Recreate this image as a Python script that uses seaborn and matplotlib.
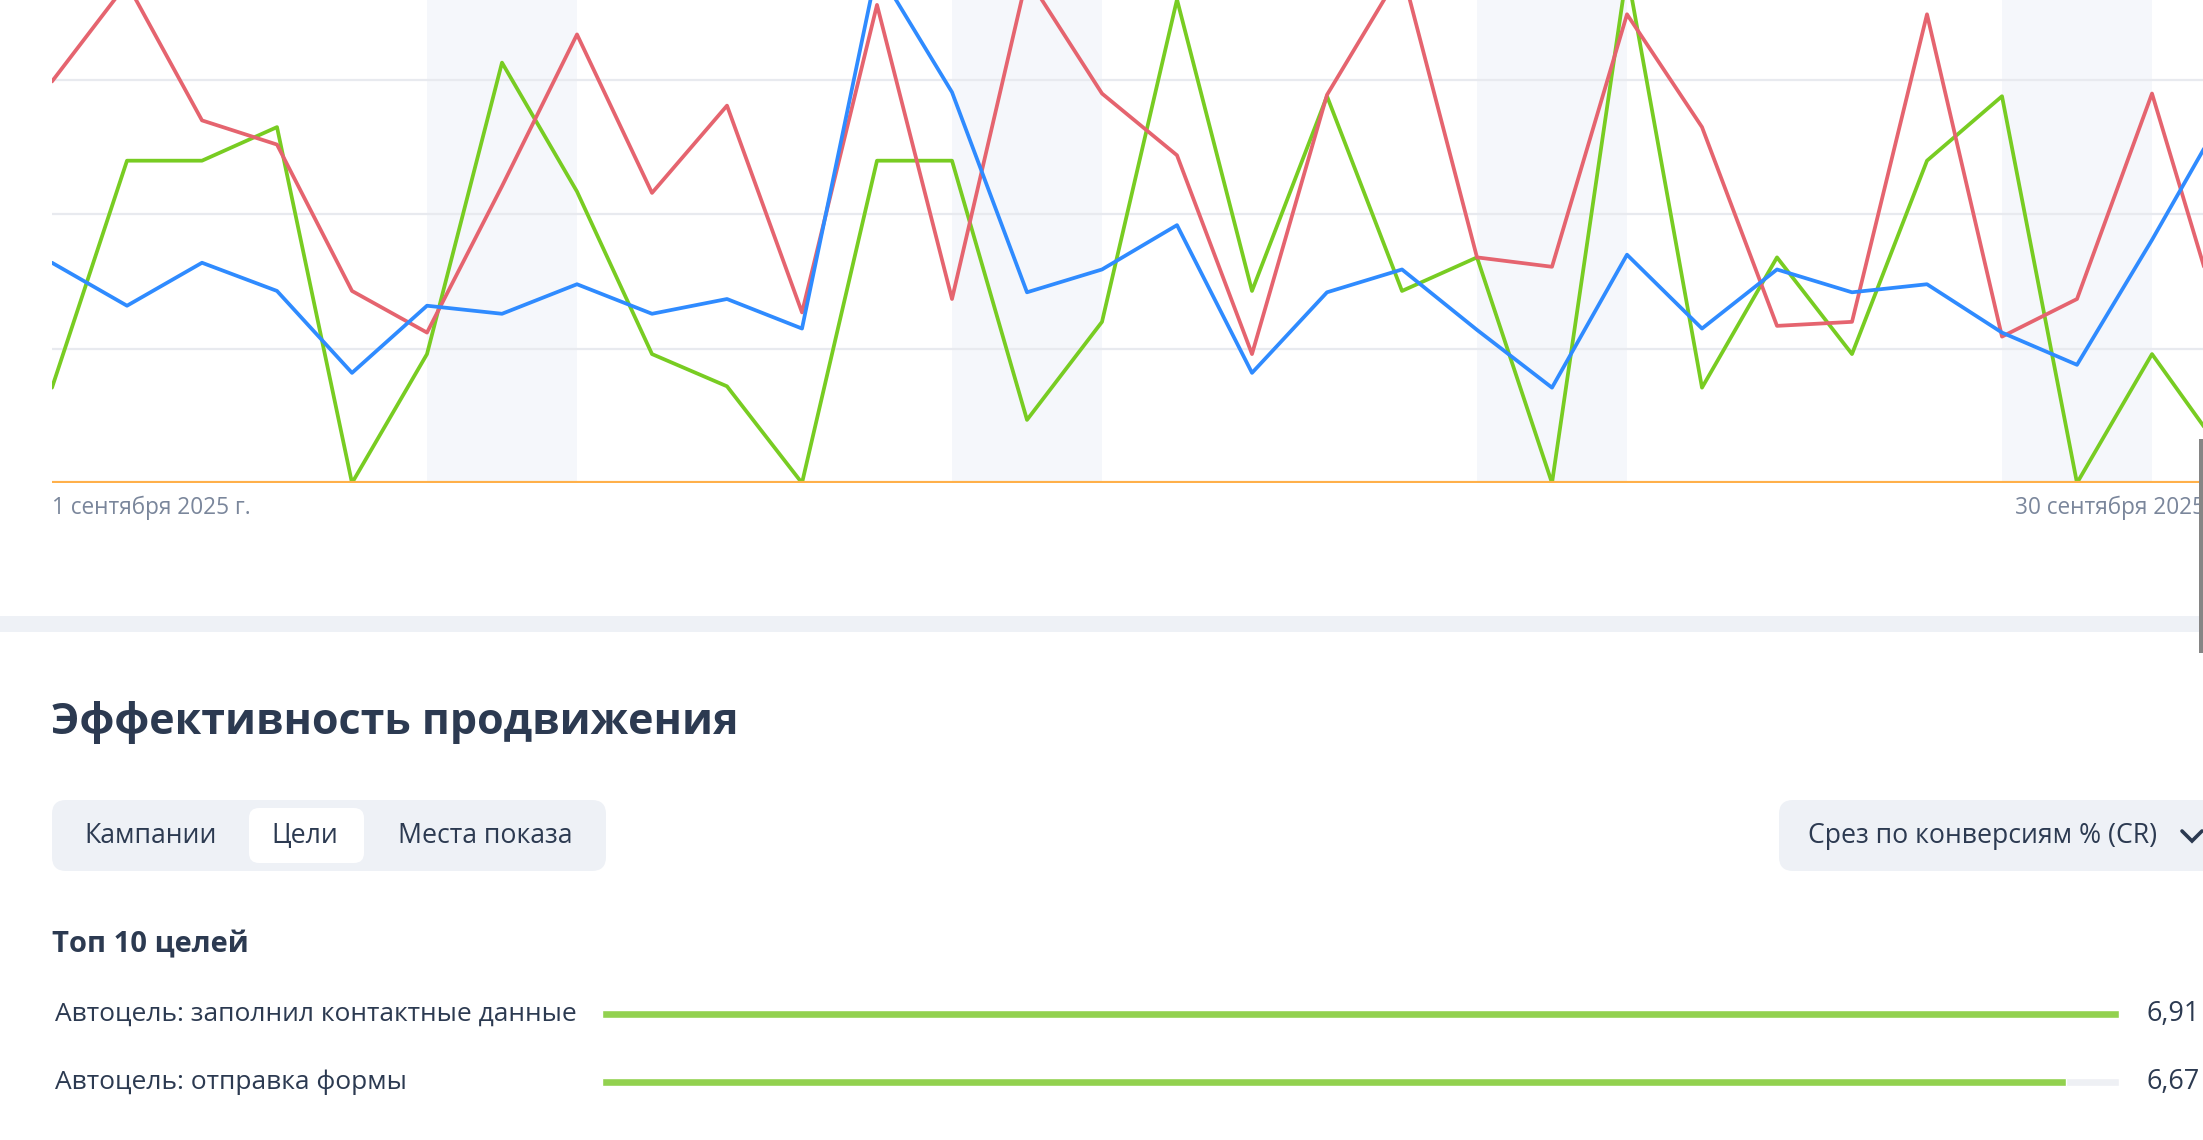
import matplotlib
matplotlib.use("Agg")
import matplotlib.pyplot as plt
import matplotlib.transforms as mtransforms
from matplotlib.patches import FancyBboxPatch, Rectangle
import numpy as np
import pandas as pd
import seaborn as sns

W, H = 2203, 1140

# --- data -------------------------------------------------------------
days = pd.date_range("2025-09-01", "2025-09-30", freq="D")
edge_labels = ["1 сентября 2025 г.", "30 сентября 2025 г."]

series_names = ["ряд 1", "ряд 2", "ряд 3", "ряд 4"]
series_colors = ["#78cc22", "#e5646f", "#2f8bff", "#ffb04a"]

green_vals = [0.71, 2.40, 2.40, 2.65, 0.00, 0.96, 3.13, 2.17, 0.96, 0.72,
              0.00, 2.40, 2.40, 0.47, 1.20, 3.60, 1.43, 2.88, 1.43, 1.68,
              0.00, 3.81, 0.71, 1.68, 0.96, 2.40, 2.88, 0.00, 0.96, 0.18]
red_vals = [2.99, 3.72, 2.70, 2.52, 1.43, 1.12, 2.21, 3.34, 2.16, 2.81,
            1.27, 3.56, 1.37, 3.77, 2.90, 2.44, 0.96, 2.89, 3.82, 1.68,
            1.61, 3.49, 2.65, 1.17, 1.20, 3.49, 1.09, 1.37, 2.90, 1.04]
blue_vals = [1.64, 1.32, 1.64, 1.43, 0.82, 1.32, 1.26, 1.48, 1.26, 1.37,
             1.15, 3.83, 2.91, 1.42, 1.59, 1.92, 0.82, 1.42, 1.59, 1.14,
             0.71, 1.70, 1.15, 1.59, 1.42, 1.48, 1.12, 0.88, 1.81, 2.79]
orange_vals = [0.0] * 30

title = "Эффективность продвижения"
tabs = ["Кампании", "Цели", "Места показа"]
active_tab = "Цели"
dropdown_label = "Срез по конверсиям % (CR)"
goals_header = "Топ 10 целей"
goal_names = ["Автоцель: заполнил контактные данные", "Автоцель: отправка формы"]
goal_values = [6.91, 6.67]

TEXT = "#2c3a51"


def px_box(x0, y0, x1, y1):
    return [x0 / W, 1 - y1 / H, (x1 - x0) / W, (y1 - y0) / H]


def main() -> None:
    sns.set_theme(style="white")
    plt.rcParams["font.family"] = ["Open Sans", "DejaVu Sans"]

    fig = plt.figure(figsize=(W / 100, H / 100), dpi=100)
    fig.patch.set_facecolor("white")

    # overlay axes in pixel units for the page furniture
    ui = fig.add_axes([0, 0, 1, 1], zorder=10)
    ui.set_xlim(0, W)
    ui.set_ylim(H, 0)
    ui.axis("off")

    # --- line chart ---------------------------------------------------
    unit = 134.3
    ax = fig.add_axes(px_box(52, 483 - 4 * unit, 2227, 483), zorder=2)
    ax.patch.set_alpha(0)
    long = pd.DataFrame({
        "day": np.tile(np.arange(len(days)), 4),
        "value": green_vals + red_vals + blue_vals + orange_vals,
        "series": np.repeat(series_names, len(days)),
    })
    sns.lineplot(data=long, x="day", y="value", hue="series", hue_order=series_names,
                 palette=dict(zip(series_names, series_colors)), linewidth=2.7,
                 legend=False, ax=ax)
    ax.lines[-1].set_linewidth(3.0)

    for i, d in enumerate(days):
        if d.dayofweek >= 5:
            ax.axvspan(i, i + 1, color="#f5f7fb", zorder=0, lw=0)

    ax.set_xlim(0, len(days) - 1)
    ax.set_ylim(0, 4)
    ax.set_yticks([1, 2, 3])
    ax.set_xticks([])
    ax.grid(axis="y", color="#e8eaef", lw=1.6)
    ax.set_axisbelow(True)
    ax.tick_params(length=0, labelleft=False)
    ax.set_xlabel("")
    ax.set_ylabel("")
    sns.despine(ax=ax, left=True, bottom=True)

    date_tr = mtransforms.blended_transform_factory(ax.transData, ui.transData)
    ax.text(0, 508, edge_labels[0], transform=date_tr, ha="left", va="center",
            fontsize=16.3, color="#7a869b")
    ax.text(len(days) - 1, 508, edge_labels[1], transform=date_tr, ha="right",
            va="center", fontsize=16.3, color="#7a869b", clip_on=False)

    # separator and scrollbar
    ui.add_patch(Rectangle((0, 616), W, 16, color="#eef1f6", lw=0))
    ui.add_patch(Rectangle((2199, 439), 5, 214, color="#858585", lw=0))

    # --- section header -----------------------------------------------
    ui.text(51, 723, title, fontsize=31, fontweight="bold", color=TEXT,
            ha="left", va="center")

    ui.add_patch(FancyBboxPatch((52, 800), 554, 71, boxstyle="round,pad=0,rounding_size=14",
                                fc="#eef1f6", ec="none"))
    ui.add_patch(FancyBboxPatch((249, 808), 115, 55, boxstyle="round,pad=0,rounding_size=10",
                                fc="white", ec="none"))
    for label, x in zip(tabs, [84, 271, 398]):
        ui.text(x, 836, label, fontsize=19.2, color=TEXT, ha="left", va="center")

    ui.add_patch(FancyBboxPatch((1779, 800), 480, 71, boxstyle="round,pad=0,rounding_size=14",
                                fc="#eef1f6", ec="none"))
    ui.text(1808, 836, dropdown_label, fontsize=19.2, color=TEXT, ha="left", va="center")
    ui.plot([2182, 2192, 2202], [831, 841, 831], color=TEXT, lw=2.6,
            solid_capstyle="round", solid_joinstyle="miter")

    ui.text(52, 945, goals_header, fontsize=21, fontweight="bold", color=TEXT,
            ha="left", va="center")

    # --- goal bars ----------------------------------------------------
    bax = fig.add_axes(px_box(602, 980, 2119, 1116), zorder=2)
    bax.patch.set_alpha(0)
    goals = pd.DataFrame({"goal": goal_names, "value": goal_values,
                          "track": [max(goal_values)] * len(goal_values)})
    sns.barplot(data=goals, x="track", y="goal", orient="h", width=0.115,
                color="#eef0f4", saturation=1, ax=bax)
    sns.barplot(data=goals, x="value", y="goal", orient="h", width=0.115,
                color="#92d14f", saturation=1, ax=bax)
    bax.set_xlim(0, max(goal_values))
    bax.set_ylim(len(goal_names) - 0.5, -0.5)
    bax.set_xticks([])
    bax.set_yticks([])
    bax.set_xlabel("")
    bax.set_ylabel("")
    sns.despine(ax=bax, left=True, bottom=True)

    row_tr = mtransforms.blended_transform_factory(ui.transData, bax.transData)
    for i, (name, v) in enumerate(zip(goal_names, goal_values)):
        bax.text(55, i, name, transform=row_tr, fontsize=19, color=TEXT,
                 ha="left", va="center", clip_on=False)
        bax.text(2147, i, f"{v:.2f}".replace(".", ","), transform=row_tr,
                 fontsize=19.5, color=TEXT, ha="left", va="center", clip_on=False)

    fig.savefig("out.png", dpi=100)
    plt.close(fig)


if __name__ == "__main__":
    main()
